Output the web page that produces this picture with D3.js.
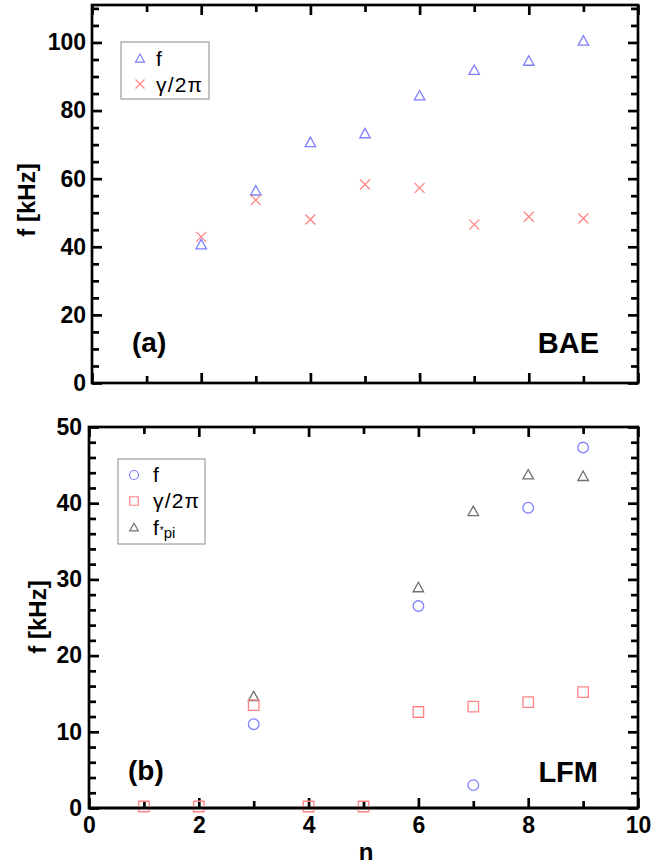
<!DOCTYPE html>
<html>
<head>
<meta charset="utf-8">
<script src="https://cdn.jsdelivr.net/npm/d3@7"></script>
<style>
  html, body { margin: 0; padding: 0; background: #fff; }
  svg { display: block; font-family: "Liberation Sans", Arial, sans-serif; }
</style>
</head>
<body>
<svg id="chart" width="670" height="866"></svg>
<script>
// ---- data ----
// (a) BAE: frequency and growth rate vs toroidal mode number n
const baeN = [2, 3, 4, 5, 6, 7, 8, 9];
const baeF = [40.8, 56.6, 70.8, 73.4, 84.5, 92.0, 94.7, 100.6];
const baeGamma = [42.9, 53.7, 48.0, 58.3, 57.3, 46.5, 48.8, 48.3];

// (b) LFM: frequency, growth rate and diamagnetic frequency vs n
const lfmN = [1, 2, 3, 4, 5, 6, 7, 8, 9];
const lfmF = [null, null, 11.0, null, null, 26.5, 3.0, 39.4, 47.3];
const lfmGamma = [0.2, 0.2, 13.5, 0.2, 0.2, 12.6, 13.3, 13.9, 15.2];
const lfmFpi = [null, null, 14.7, null, null, 29.0, 39.0, 43.8, 43.6];

const yTicksA = [0, 20, 40, 60, 80, 100];
const yTicksB = [0, 10, 20, 30, 40, 50];
const xTicks = [0, 2, 4, 6, 8, 10];

// ---- styles ----
const BLUE = "#7f7fff", RED = "#ff8585", GRAY = "#6f6f6f";
const AXW = 2.7;

const svg = d3.select("#chart");

function triPath(s) {
  const h = s * 0.9;
  return `M0,${-h / 2}L${s / 2},${h / 2}L${-s / 2},${h / 2}Z`;
}
function crossPath(s) {
  const h = s / 2;
  return `M${-h},${-h}L${h},${h}M${-h},${h}L${h},${-h}`;
}
function squarePath(s) {
  const h = s / 2;
  return `M${-h},${-h}H${h}V${h}H${-h}Z`;
}

function drawFrame(g, x, y, opts) {
  const [x0, x1] = x.range();
  const [y0, y1] = y.range();
  const majorLen = 10, minorLen = 7;

  const mk = (axisFn, scale, ticks, len, transform, labels) => {
    const ax = axisFn(scale).tickValues(ticks).tickSizeInner(-len).tickSizeOuter(0);
    if (!labels) ax.tickFormat("");
    const a = g.append("g").attr("transform", transform).call(ax);
    a.select(".domain").remove();
    a.selectAll(".tick line").attr("stroke", "#000").attr("stroke-width", AXW);
    return a;
  };

  // left
  const la = mk(d3.axisLeft, y, opts.yMajor, majorLen, `translate(${x0},0)`, true);
  la.selectAll("text").attr("fill", "#000").style("font-size", "23px").style("font-weight", "bold")
    .attr("x", -opts.yPad);
  mk(d3.axisLeft, y, opts.yMinor, minorLen, `translate(${x0},0)`, false);
  // right
  mk(d3.axisRight, y, opts.yMajor, majorLen, `translate(${x1},0)`, false);
  mk(d3.axisRight, y, opts.yMinor, minorLen, `translate(${x1},0)`, false);
  // bottom
  const ba = mk(d3.axisBottom, x, opts.xMajor, majorLen, `translate(0,${y0})`, opts.xLabels);
  if (opts.xLabels) {
    ba.selectAll("text").attr("fill", "#000").style("font-size", "23px").style("font-weight", "bold")
      .attr("y", 9);
  }
  mk(d3.axisBottom, x, opts.xMinor, minorLen, `translate(0,${y0})`, false);
  // top
  mk(d3.axisTop, x, opts.xMajor, majorLen, `translate(0,${y1})`, false);
  mk(d3.axisTop, x, opts.xMinor, minorLen, `translate(0,${y1})`, false);

  g.append("rect")
    .attr("x", x0).attr("y", y1).attr("width", x1 - x0).attr("height", y0 - y1)
    .attr("fill", "none").attr("stroke", "#000").attr("stroke-width", AXW);
}

function scatter(g, x, y, ns, vals, shape, color, size) {
  const pts = ns.map((n, i) => ({ n, v: vals[i] })).filter(d => d.v != null);
  const sel = g.append("g").selectAll("path").data(pts).join("path")
    .attr("transform", d => `translate(${x(d.n)},${y(d.v)})`)
    .attr("fill", "none").attr("stroke", color).attr("stroke-width", 1.3);
  if (shape === "circle") sel.attr("d", d3.symbol(d3.symbolCircle, Math.PI * size * size)());
  else if (shape === "tri") sel.attr("d", triPath(size));
  else if (shape === "cross") sel.attr("d", crossPath(size));
  else if (shape === "square") sel.attr("d", squarePath(size));
}

function legendMarker(g, shape, color, cx, cy, size) {
  const p = g.append("path").attr("transform", `translate(${cx},${cy})`)
    .attr("fill", "none").attr("stroke", color).attr("stroke-width", 1.2);
  if (shape === "circle") p.attr("d", d3.symbol(d3.symbolCircle, Math.PI * size * size)());
  else if (shape === "tri") p.attr("d", triPath(size));
  else if (shape === "cross") p.attr("d", crossPath(size));
  else if (shape === "square") p.attr("d", squarePath(size));
}

// ---- panel (a) ----
const xA = d3.scaleLinear().domain([0, 10]).range([92, 638]);
const yA = d3.scaleLinear().domain([0, 111]).range([383, 5]);
const gA = svg.append("g");

drawFrame(gA, xA, yA, {
  yMajor: yTicksA, yMinor: d3.range(5, 111, 5).filter(v => v % 20 !== 0),
  xMajor: xTicks, xMinor: [1, 3, 5, 7, 9], xLabels: false, yPad: 6
});
scatter(gA, xA, yA, baeN, baeF, "tri", BLUE, 10.5);
scatter(gA, xA, yA, baeN, baeGamma, "cross", RED, 10);

// legend (a)
gA.append("rect").attr("x", 121).attr("y", 42).attr("width", 88).attr("height", 57)
  .attr("fill", "#fff").attr("stroke", "#8a8a8a").attr("stroke-width", 1);
legendMarker(gA, "tri", BLUE, 140, 58, 9);
legendMarker(gA, "cross", RED, 140, 84, 9);
gA.append("text").attr("x", 156).attr("y", 66).style("font-size", "21px").text("f");
gA.append("text").attr("x", 156).attr("y", 92).style("font-size", "21px")
  .style("letter-spacing", "1.2px").text("γ/2π");

gA.append("text").attr("x", 132).attr("y", 352).style("font-size", "28px").style("font-weight", "bold").text("(a)");
gA.append("text").attr("x", 599).attr("y", 353).attr("text-anchor", "end")
  .style("font-size", "29px").style("font-weight", "bold").text("BAE");
gA.append("text").attr("transform", "translate(35,200) rotate(-90)").attr("text-anchor", "middle")
  .style("font-size", "24px").style("font-weight", "bold").text("f [kHz]");

// ---- panel (b) ----
const xB = d3.scaleLinear().domain([0, 10]).range([89, 638]);
const yB = d3.scaleLinear().domain([0, 50]).range([808, 427]);
const gB = svg.append("g");

drawFrame(gB, xB, yB, {
  yMajor: yTicksB, yMinor: d3.range(2, 50, 2).filter(v => v % 10 !== 0),
  xMajor: xTicks, xMinor: [1, 3, 5, 7, 9], xLabels: true, yPad: 7
});
scatter(gB, xB, yB, lfmN, lfmFpi, "tri", GRAY, 10.5);
scatter(gB, xB, yB, lfmN, lfmGamma, "square", RED, 10.5);
scatter(gB, xB, yB, lfmN, lfmF, "circle", BLUE, 5.3);
// redraw the bottom axis line over the markers sitting on it
gB.append("line").attr("x1", 89).attr("x2", 638).attr("y1", 808).attr("y2", 808)
  .attr("stroke", "#000").attr("stroke-width", AXW);
gB.selectAll(".tick line").raise();

// legend (b)
gB.append("rect").attr("x", 118).attr("y", 459).attr("width", 87).attr("height", 85)
  .attr("fill", "#fff").attr("stroke", "#8a8a8a").attr("stroke-width", 1);
legendMarker(gB, "circle", BLUE, 134, 475, 4.5);
legendMarker(gB, "square", RED, 134, 501, 8.5);
legendMarker(gB, "tri", GRAY, 134, 527, 8.5);
gB.append("text").attr("x", 153).attr("y", 482).style("font-size", "21px").text("f");
gB.append("text").attr("x", 153).attr("y", 508).style("font-size", "21px")
  .style("letter-spacing", "1.2px").text("γ/2π");
const fpi = gB.append("text").attr("x", 153).attr("y", 535).style("font-size", "21px");
fpi.append("tspan").text("f");
fpi.append("tspan").attr("dx", 1).attr("dy", -1).style("font-size", "10px").text("*");
fpi.append("tspan").attr("dx", 0).attr("dy", 4).style("font-size", "15px").text("pi");

gB.append("text").attr("x", 128).attr("y", 780).style("font-size", "28px").style("font-weight", "bold").text("(b)");
gB.append("text").attr("x", 598).attr("y", 782).attr("text-anchor", "end")
  .style("font-size", "29px").style("font-weight", "bold").text("LFM");
gB.append("text").attr("transform", "translate(46,617) rotate(-90)").attr("text-anchor", "middle")
  .style("font-size", "24px").style("font-weight", "bold").text("f [kHz]");
gB.append("text").attr("x", 366).attr("y", 860).attr("text-anchor", "middle")
  .style("font-size", "24px").style("font-weight", "bold").text("n");
</script>
</body>
</html>
